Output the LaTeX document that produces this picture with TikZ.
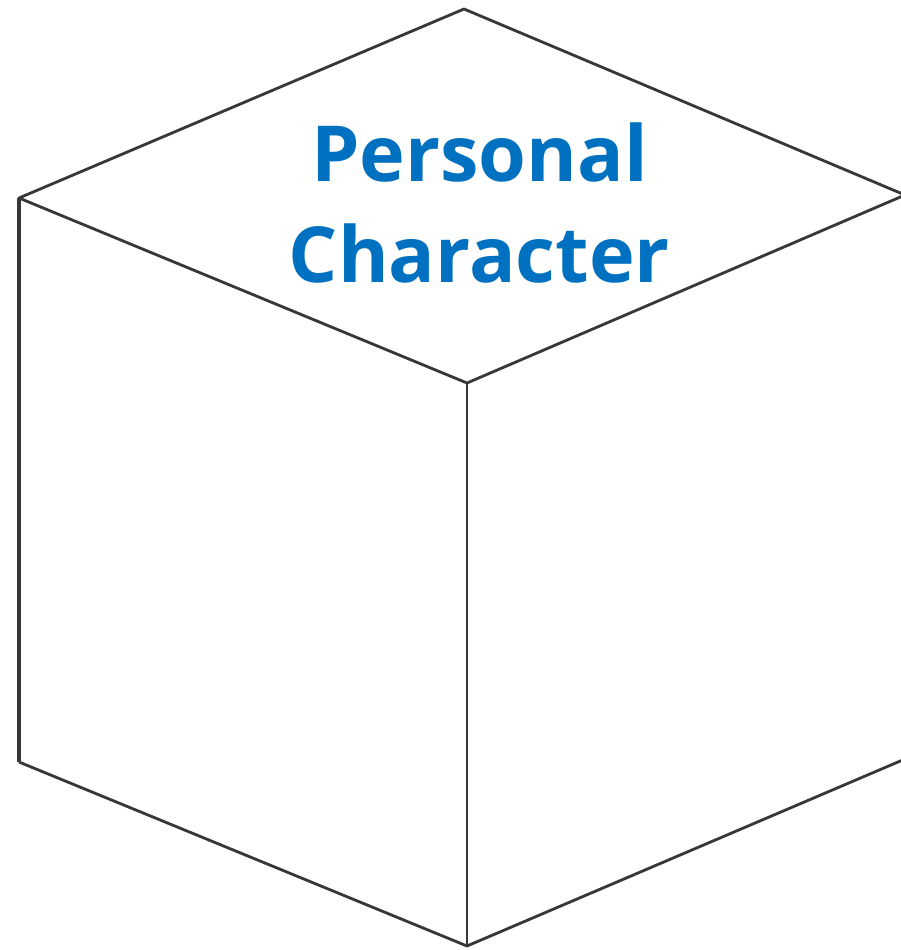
\documentclass[tikz,border=0pt]{standalone}
\usepackage{fontspec}
\setmainfont{Open Sans}
\definecolor{cubeblue}{RGB}{0,112,192}
\definecolor{cubeline}{RGB}{55,55,55}

\begin{document}
\begin{tikzpicture}[
  edge/.style={draw=cubeline,line width=0.8pt,line join=round},
  title/.style={align=center,text=cubeblue,font=\fontsize{22}{28.6}\selectfont\bfseries}]
  \useasboundingbox (0,0) rectangle (9.01,-9.5);
  \clip (0,0) rectangle (9.01,-9.5);
  % Cube corners
  \coordinate (top) at (4.64,-0.09);
  \coordinate (lt) at (0.19,-1.98);
  \coordinate (rt) at (9.05,-1.95);
  \coordinate (ctr) at (4.67,-3.83);
  \coordinate (lb) at (0.19,-7.62);
  \coordinate (bot) at (4.67,-9.46);
  \coordinate (rb) at (9.05,-7.59);
  % Edges
  \draw[edge] (lt) -- (top) -- (rt) -- (ctr) -- cycle;
  \draw[edge] (ctr) -- (bot);
  \draw[edge] (lb) -- (bot) -- (rb) -- (rt);
  \draw[edge,line width=1.1pt] (lt) -- (lb);
  % Label
  \node[title] (label) at (4.795,-2.03) {Personal\\Character};
\end{tikzpicture}
\end{document}
